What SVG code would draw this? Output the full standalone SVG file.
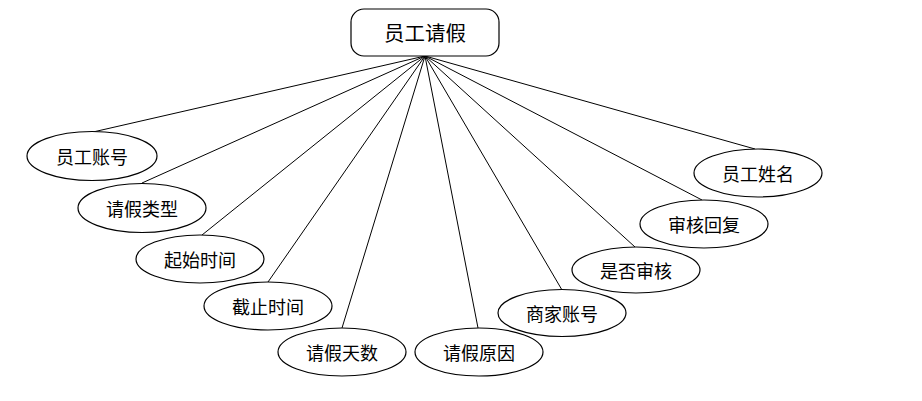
<svg xmlns="http://www.w3.org/2000/svg" width="922" height="401" viewBox="0 0 922 401">
<style>
.n ellipse,.n rect{fill:#fff;stroke:#000;stroke-width:1.2}
.n text{font-family:"Noto Sans CJK SC","Noto Sans",sans-serif;font-size:18px;fill:#000;text-anchor:middle;dominant-baseline:central}
#root text{font-size:20.5px}
#edges line{stroke:#000;stroke-width:1}
</style>
<rect width="922" height="401" fill="#fff"/>
<g id="edges">
<line x1="425" y1="56" x2="93" y2="132"/>
<line x1="425" y1="56" x2="142" y2="183"/>
<line x1="425" y1="56" x2="202" y2="235"/>
<line x1="425" y1="56" x2="268" y2="282"/>
<line x1="425" y1="56" x2="342" y2="328"/>
<line x1="425" y1="56" x2="478" y2="328"/>
<line x1="425" y1="56" x2="562" y2="290"/>
<line x1="425" y1="56" x2="635" y2="247"/>
<line x1="425" y1="56" x2="702" y2="200"/>
<line x1="425" y1="56" x2="755" y2="149"/>
</g>
<g id="root" class="n"><rect x="351" y="9" width="148" height="47" rx="13"/><text x="425" y="32">员工请假</text></g>
<g id="n1" class="n"><ellipse cx="92" cy="156" rx="65" ry="24.5"/><text x="92" y="156">员工账号</text></g>
<g id="n2" class="n"><ellipse cx="142" cy="208" rx="64" ry="24.5"/><text x="142" y="208">请假类型</text></g>
<g id="n3" class="n"><ellipse cx="200" cy="259" rx="64" ry="24"/><text x="200" y="259">起始时间</text></g>
<g id="n4" class="n"><ellipse cx="268" cy="306" rx="64" ry="24"/><text x="268" y="306">截止时间</text></g>
<g id="n5" class="n"><ellipse cx="342" cy="352" rx="64" ry="24"/><text x="342" y="352">请假天数</text></g>
<g id="n6" class="n"><ellipse cx="479" cy="352" rx="64" ry="24"/><text x="479" y="352">请假原因</text></g>
<g id="n7" class="n"><ellipse cx="562" cy="313" rx="64" ry="23.5"/><text x="562" y="313">商家账号</text></g>
<g id="n8" class="n"><ellipse cx="636" cy="270" rx="64" ry="23"/><text x="636" y="270">是否审核</text></g>
<g id="n9" class="n"><ellipse cx="704" cy="224" rx="64" ry="24"/><text x="704" y="224">审核回复</text></g>
<g id="n10" class="n"><ellipse cx="758" cy="173" rx="64" ry="24"/><text x="758" y="173">员工姓名</text></g>
</svg>
